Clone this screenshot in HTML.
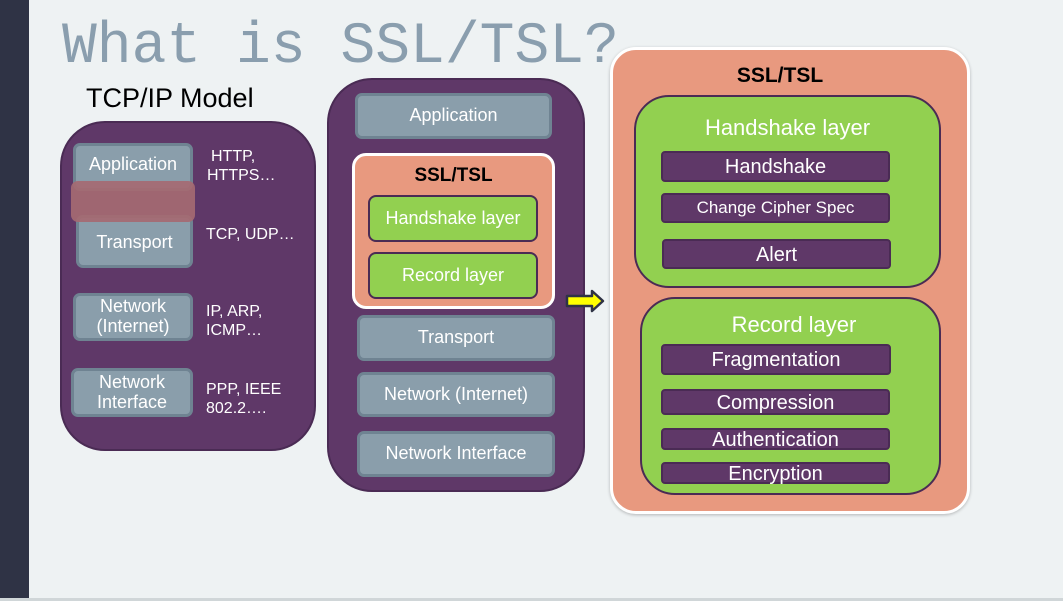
<!DOCTYPE html>
<html><head><meta charset="utf-8"><style>
*{margin:0;padding:0;box-sizing:border-box}
body{width:1063px;height:601px;background:#eef2f3;position:relative;overflow:hidden;font-family:"Liberation Sans",Arial,sans-serif}
.a{position:absolute}
.c{display:flex;align-items:center;justify-content:center;text-align:center;color:#fff;line-height:1.1}
.p{background:#5f3868;border:2px solid #4a2b54}
.g{background:#8a9eab;border:3px solid #6f8392;border-radius:7px;font-size:18px}
.gr{background:#92d050;border:2.5px solid #4a2b54}
.it{background:#5f3868;border:2.5px solid #4a2b54;border-radius:4px;font-size:20px;padding-top:1px}
.w{color:#fff;font-size:16px;line-height:19px}
</style></head><body>
<div class="a" style="left:0;top:0;width:29px;height:598px;background:#2f3345"></div>
<div class="a" style="left:0;top:598px;width:1063px;height:3px;background:#d0d6d8"></div>
<div class="a" style="left:62px;top:16px;font-family:'Liberation Mono',monospace;font-size:58px;color:#8a9eae;line-height:64px;white-space:nowrap">What is SSL/TSL?</div>
<div class="a" style="left:86px;top:83px;font-size:27px;color:#000">TCP/IP Model</div>

<div class="a p" style="left:60px;top:121px;width:256px;height:330px;border-radius:45px"></div>
<div class="a c g" style="left:73px;top:143px;width:120px;height:48px;padding-bottom:4px">Application</div>
<div class="a c g" style="left:76px;top:215px;width:117px;height:53px;padding-top:2px">Transport</div>
<div class="a" style="left:71px;top:181px;width:124px;height:41px;background:#a56a72;opacity:.92;border-radius:7px"></div>
<div class="a c g" style="left:73px;top:293px;width:120px;height:48px">Network<br>(Internet)</div>
<div class="a c g" style="left:71px;top:368px;width:122px;height:49px">Network<br>Interface</div>
<div class="a w" style="left:211px;top:147px">HTTP,<br><span style="margin-left:-4px">HTTPS…</span></div>
<div class="a w" style="left:206px;top:225px">TCP, UDP…</div>
<div class="a w" style="left:206px;top:302px">IP, ARP,<br>ICMP…</div>
<div class="a w" style="left:206px;top:380px">PPP, IEEE<br>802.2….</div>

<div class="a p" style="left:327px;top:78px;width:258px;height:414px;border-radius:45px"></div>
<div class="a c g" style="left:355px;top:93px;width:197px;height:46px">Application</div>
<div class="a" style="left:352px;top:153px;width:203px;height:156px;background:#e8997f;border:3px solid #fff;border-radius:14px"></div>
<div class="a" style="left:352px;top:165px;width:203px;text-align:center;font-weight:bold;font-size:19px">SSL/TSL</div>
<div class="a c gr" style="left:368px;top:195px;width:170px;height:47px;border-radius:8px;font-size:18px">Handshake layer</div>
<div class="a c gr" style="left:368px;top:252px;width:170px;height:47px;border-radius:8px;font-size:18px">Record layer</div>
<div class="a c g" style="left:357px;top:315px;width:198px;height:46px">Transport</div>
<div class="a c g" style="left:357px;top:372px;width:198px;height:45px">Network (Internet)</div>
<div class="a c g" style="left:357px;top:431px;width:198px;height:46px">Network Interface</div>

<svg class="a" style="left:565px;top:289px" width="42" height="24"><polygon points="2,7 27,7 27,2 38,12 27,22 27,17 2,17" fill="#ffff00" stroke="#2f3345" stroke-width="2.5" stroke-linejoin="round"/></svg>

<div class="a" style="left:610px;top:47px;width:360px;height:467px;background:#e8997f;border:3px solid #fff;border-radius:26px;box-shadow:0 1px 3px rgba(0,0,0,.25)"></div>
<div class="a" style="left:610px;top:64px;width:340px;text-align:center;font-weight:bold;font-size:21px">SSL/TSL</div>
<div class="a gr" style="left:634px;top:95px;width:307px;height:193px;border-radius:35px"></div>
<div class="a" style="left:680px;top:115px;width:215px;text-align:center;color:#fff;font-size:22px">Handshake layer</div>
<div class="a c it" style="left:661px;top:151px;width:229px;height:31px">Handshake</div>
<div class="a c it" style="left:661px;top:193px;width:229px;height:30px;font-size:17px">Change Cipher Spec</div>
<div class="a c it" style="left:662px;top:239px;width:229px;height:30px">Alert</div>
<div class="a gr" style="left:640px;top:297px;width:301px;height:198px;border-radius:35px"></div>
<div class="a" style="left:700px;top:312px;width:188px;text-align:center;color:#fff;font-size:22px">Record layer</div>
<div class="a c it" style="left:661px;top:344px;width:230px;height:31px">Fragmentation</div>
<div class="a c it" style="left:661px;top:389px;width:229px;height:26px">Compression</div>
<div class="a c it" style="left:661px;top:428px;width:229px;height:22px">Authentication</div>
<div class="a c it" style="left:661px;top:462px;width:229px;height:22px">Encryption</div>
</body></html>
